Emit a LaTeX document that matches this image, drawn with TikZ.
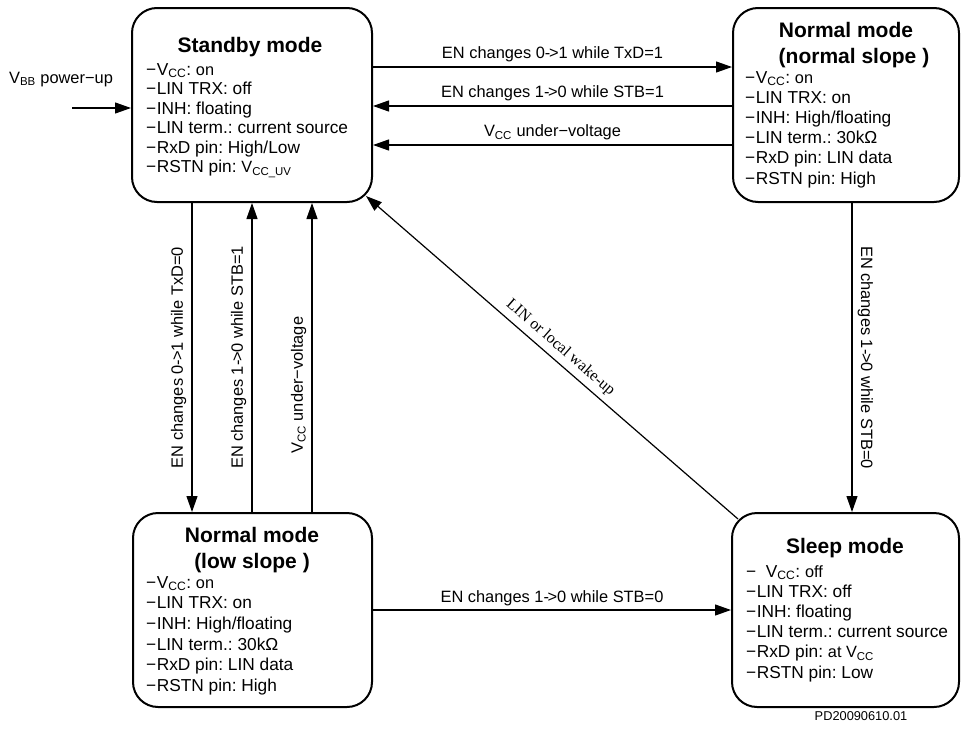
\documentclass[tikz,border=0pt]{standalone}
\usepackage{fontspec}
\setmainfont{Liberation Sans}
\newfontfamily\seriffam{Liberation Serif}
\usetikzlibrary{arrows.meta}
\newcommand\lsub[1]{\textsubscript{#1}}
\newcommand\dsh{−\kern0.5pt}
\newcommand\ar{-\kern-1.4pt>}
\newcommand\smf{\fontsize{16.3}{18}\selectfont}
\frenchspacing
\begin{document}
\begin{tikzpicture}[x=1pt,y=-1pt,
  state/.style={draw, line width=2pt, rounded corners=25pt, minimum height=194pt, inner sep=0pt},
  ttl/.style={font=\fontsize{21}{24}\selectfont\bfseries, anchor=base, inner sep=0pt},
  itm/.style={font=\fontsize{17.3}{20}\selectfont, anchor=base west, inner sep=0pt},
  lbl/.style={font=\fontsize{16.4}{18}\selectfont},
  arr/.style={line width=1.2pt, -{Triangle[length=16pt,width=11pt]}},
  arrb/.style={line width=1.2pt, {Triangle[length=16pt,width=11pt]}-},
]
\useasboundingbox (0,0) rectangle (962,731);

% state boxes
\node[state, minimum width=240pt] (sb) at (252,105) {};
\node[state, minimum width=226pt] (nn) at (846,105) {};
\node[state, minimum width=239pt] (ls) at (252.5,610) {};
\node[state, minimum width=227pt] (sl) at (845.5,610) {};

% titles
\node[ttl] (sbt) at (250,52) {Standby mode};
\node[ttl] (nnt1) at (846,37) {Normal mode};
\node[ttl] (nnt2) at (854,63) {(normal slope )};
\node[ttl] (lst1) at (252,542) {Normal mode};
\node[ttl] (lst2) at (252,568) {(low slope )};
\node[ttl] (slt) at (845,553) {Sleep mode};

% items
\foreach \t [count=\i from 0] in {{\dsh V\lsub{CC}: {\smf on}},{\dsh LIN TRX: off},{\dsh INH: floating},{\dsh LIN term.: current source},{\dsh RxD pin: High/Low},{\dsh RSTN pin: {\smf V\lsub{CC\_UV}}}}
  \node[itm] (sbi\i) at (146,75+19.5*\i) {\t};
\foreach \t [count=\i from 0] in {{\dsh V\lsub{CC}: {\smf on}},{\dsh LIN TRX: on},{\dsh INH: High/floating},{\dsh LIN term.: 30kΩ},{\dsh RxD pin: LIN data},{\dsh RSTN pin: High}}
  \node[itm] (nni\i) at (745,83+20.2*\i) {\t};
\foreach \t [count=\i from 0] in {{\dsh V\lsub{CC}: {\smf on}},{\dsh LIN TRX: on},{\dsh INH: High/floating},{\dsh LIN term.: 30kΩ},{\dsh RxD pin: LIN data},{\dsh RSTN pin: High}}
  \node[itm] (lsi\i) at (146,588+20.7*\i) {\t};
\foreach \t [count=\i from 0] in {{−\ \ V\lsub{CC}: {\smf off}},{\dsh LIN TRX: off},{\dsh INH: floating},{\dsh LIN term.: current source},{\dsh RxD pin: {\smf at V\lsub{CC}}},{\dsh RSTN pin: Low}}
  \node[itm] (sli\i) at (746,577+20.2*\i) {\t};

% helper coordinates
\coordinate (h1) at (0,67);
\coordinate (h2) at (0,106);
\coordinate (h3) at (0,145);
\coordinate (h4) at (0,610);
\coordinate (v1) at (192,0);
\coordinate (v2) at (252,0);
\coordinate (v3) at (312,0);
\coordinate (v4) at (852,0);

% power-up
\coordinate (vbbs) at (72,108);
\node[lbl, anchor=base] (vbb) at (61,83) {V\lsub{BB} power−up};
\draw[arr] (vbbs) -- (sb.west |- vbbs);

% top transitions
\draw[arr] (sb.east |- h1) -- node[lbl, above, inner sep=4pt] (t1) {EN changes 0\ar1 while TxD=1} (nn.west |- h1);
\draw[arr] (nn.west |- h2) -- node[lbl, above, inner sep=4pt] (t2) {EN changes 1\ar0 while STB=1} (sb.east |- h2);
\draw[arr] (nn.west |- h3) -- node[lbl, above, inner sep=4pt] (t3) {V\lsub{CC} under−voltage} (sb.east |- h3);

% left verticals
\draw[arr] (sb.south -| v1) -- node[lbl, rotate=90, anchor=south, inner sep=5pt] (l1) {EN changes 0\ar1 while TxD=0} (ls.north -| v1);
\draw[arr] (ls.north -| v2) -- node[lbl, rotate=90, anchor=south, inner sep=5pt] (l2) {EN changes 1\ar0 while STB=1} (sb.south -| v2);
\draw[arr] (ls.north -| v3) -- node[lbl, rotate=90, anchor=south, inner sep=5pt, pos=0.41] (l3) {V\lsub{CC} under−voltage} (sb.south -| v3);

% right vertical
\draw[arr] (nn.south -| v4) -- node[lbl, rotate=-90, anchor=south, inner sep=5pt] (r1) {EN changes 1\ar0 while STB=0} (sl.north -| v4);

% bottom
\draw[arr] (ls.east |- h4) -- node[lbl, above, inner sep=4pt] (b1) {EN changes 1\ar0 while STB=0} (sl.west |- h4);

% diagonal
\draw[arrb] ([shift={(-7,-7)}]sb.south east) -- node[midway, sloped, above, inner sep=5pt, font=\seriffam\fontsize{16}{18}\selectfont] (wk) {LIN or local wake-up} ([shift={(7,7)}]sl.north west);

\node[font=\fontsize{12.8}{14}\selectfont] (pd) at (861,716) {PD20090610.01};
\end{tikzpicture}
\end{document}
